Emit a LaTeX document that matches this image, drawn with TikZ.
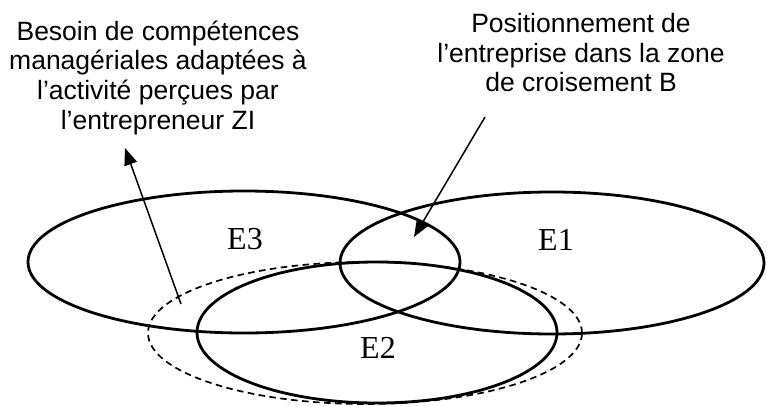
\documentclass[tikz,border=0pt]{standalone}
\usepackage{fontspec}
\setmainfont{Liberation Sans}
\newfontfamily\serifE{Liberation Serif}
\usetikzlibrary{arrows.meta}
\begin{document}
\begin{tikzpicture}[x=1pt,y=-1pt,
  setline/.style={line width=2.8pt},
  dashline/.style={line width=1.7pt, dash pattern=on 6.5pt off 4.5pt},
  lbl/.style={inner sep=0pt, align=center, font=\fontsize{26.5}{29.7}\selectfont},
  setname/.style={inner sep=0pt, font=\serifE\fontsize{32}{36}\selectfont},
  pointer/.style={line width=1.5pt, -{Triangle[length=17pt,width=13pt]}}]
\useasboundingbox (0,0) rectangle (767,406);
% sets
\draw[setline] (244,262) ellipse [x radius=216pt, y radius=71pt];
\draw[setline] (552,263) ellipse [x radius=212pt, y radius=71pt];
\draw[setline] (377,332.5) ellipse [x radius=180pt, y radius=70.5pt];
\draw[dashline] (365,333) ellipse [x radius=217pt, y radius=71pt];
% set names
\node[setname] (e3) at (245,239.5) {E3};
\node[setname] (e1) at (556,239.5) {E1};
\node[setname] (e2) at (378,347.5) {E2};
% labels
\node[lbl, anchor=north] (besoin) at (158,20.5) {Besoin de compétences\\managériales adaptées à\\l’activité perçues par\\l’entrepreneur ZI};
\node[lbl, anchor=north] (pos) at (581,13) {Positionnement de\\l’entreprise dans la zone\\de croisement B};
% pointers
\coordinate (p1s) at (181,304);
\coordinate (p1e) at (125,148);
\coordinate (p2s) at (485,117);
\coordinate (p2e) at (414,237);
\draw[pointer] (p1s) -- (p1e);
\draw[pointer] (p2s) -- (p2e);
\end{tikzpicture}
\end{document}
